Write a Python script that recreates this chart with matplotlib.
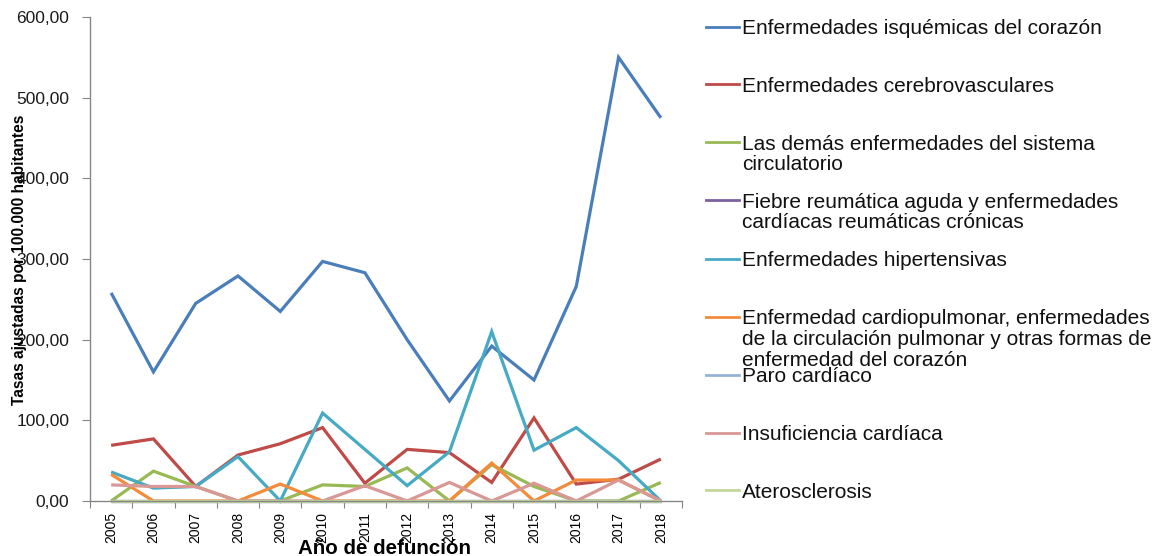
import matplotlib
matplotlib.use("Agg")
import matplotlib.pyplot as plt
from matplotlib.ticker import FixedLocator, FuncFormatter, NullFormatter
from matplotlib.lines import Line2D

years = ["2005", "2006", "2007", "2008", "2009", "2010", "2011",
         "2012", "2013", "2014", "2015", "2016", "2017", "2018"]

isquemicas = [258, 160, 245, 279, 235, 297, 283, 200, 124, 192, 150, 266, 550, 475]
cerebrovasculares = [69, 77, 18, 57, 71, 91, 22, 64, 60, 23, 103, 21, 27, 52]
demas_circulatorio = [0, 37, 18, 0, 0, 20, 18, 41, 0, 45, 18, 0, 0, 23]
fiebre_reumatica = [0, 0, 0, 0, 0, 0, 0, 0, 0, 0, 0, 0, 0, 0]
hipertensivas = [36, 16, 18, 55, 0, 109, 64, 19, 61, 210, 63, 91, 50, 0]
cardiopulmonar = [33, 0, 0, 0, 21, 0, 0, 0, 0, 47, 0, 26, 26, 0]
paro_cardiaco = [0, 0, 0, 0, 0, 0, 0, 0, 0, 0, 0, 0, 0, 0]
insuficiencia = [20, 18, 18, 0, 0, 0, 19, 0, 23, 0, 22, 0, 26, 0]
aterosclerosis = [0, 0, 0, 0, 0, 0, 0, 0, 0, 0, 0, 0, 0, 0]

series_names = [
    "Enfermedades isquémicas del corazón",
    "Enfermedades cerebrovasculares",
    "Las demás enfermedades del sistema\ncirculatorio",
    "Fiebre reumática aguda y enfermedades\ncardíacas reumáticas crónicas",
    "Enfermedades hipertensivas",
    "Enfermedad cardiopulmonar, enfermedades\nde la circulación pulmonar y otras formas de\nenfermedad del corazón",
    "Paro cardíaco",
    "Insuficiencia cardíaca",
    "Aterosclerosis",
]
series_values = [isquemicas, cerebrovasculares, demas_circulatorio, fiebre_reumatica,
                 hipertensivas, cardiopulmonar, paro_cardiaco, insuficiencia, aterosclerosis]
colors = ["#4A7EBB", "#BE4B48", "#98B954", "#7D60A0", "#46AAC5",
          "#F38B3A", "#95B3D7", "#D99795", "#C3D69B"]

W, H = 1161, 556
fig = plt.figure(figsize=(W / 100, H / 100), dpi=100)
ax = fig.add_axes([90 / W, 1 - 501 / H, (682 - 90) / W, (501 - 17) / H])

x = list(range(len(years)))
for vals, c in zip(series_values, colors):
    ax.plot(x, vals, color=c, lw=2.3, solid_joinstyle="miter", solid_capstyle="butt",
            clip_on=False)

ax.set_xlim(-0.5, len(years) - 0.5)
ax.set_ylim(0, 600)
for s in ["top", "right"]:
    ax.spines[s].set_visible(False)
for s in ["left", "bottom"]:
    ax.spines[s].set_color("#868686")
    ax.spines[s].set_linewidth(1.0)

ax.yaxis.set_major_locator(FixedLocator([0, 100, 200, 300, 400, 500, 600]))
ax.yaxis.set_major_formatter(FuncFormatter(lambda v, p: f"{v:.2f}".replace(".", ",")))
ax.tick_params(axis="y", direction="out", length=6, color="#868686", pad=9,
               labelsize=12.5, labelcolor="#1a1a1a")
for lab in ax.get_yticklabels():
    lab.set_family(["Liberation Sans", "DejaVu Sans"])

ax.xaxis.set_major_locator(FixedLocator([i - 0.5 for i in range(len(years) + 1)]))
ax.xaxis.set_major_formatter(NullFormatter())
ax.xaxis.set_minor_locator(FixedLocator(x))
ax.xaxis.set_minor_formatter(FuncFormatter(lambda v, p: years[int(round(v))]))
ax.tick_params(axis="x", which="major", direction="out", length=5, color="#868686")
ax.tick_params(axis="x", which="minor", length=0, pad=8, labelsize=10, labelrotation=90)
for lab in ax.get_xticklabels(minor=True):
    lab.set_family(["Liberation Sans", "DejaVu Sans"])
    lab.set_va("top")

fig.text(385 / W, 1 - 548 / H, "Año de defunción", fontsize=14.8, fontweight="bold",
         family=["Liberation Sans", "DejaVu Sans"], ha="center", va="center")
fig.text(20 / W, 1 - 260 / H, "Tasas ajustadas por 100.000 habitantes", fontsize=11.2,
         fontweight="bold", rotation=90, family=["Liberation Sans", "DejaVu Sans"],
         ha="center", va="center")

# legend drawn manually (uniform row spacing as in the reference)
row_y = [27, 84, 142, 200, 259, 317, 375, 433, 490]
line_gap = 20.5
for name, c, ry in zip(series_names, colors, row_y):
    fig.add_artist(Line2D([706 / W, 739 / W], [1 - ry / H, 1 - ry / H], color=c, lw=2.0,
                          transform=fig.transFigure))
    for k, part in enumerate(name.split("\n")):
        fig.text(742 / W, 1 - (ry + k * line_gap) / H, part, fontsize=15,
                 family=["Liberation Sans", "DejaVu Sans"], ha="left", va="center_baseline",
                 color="#111111")

fig.savefig("out.png", dpi=100)
